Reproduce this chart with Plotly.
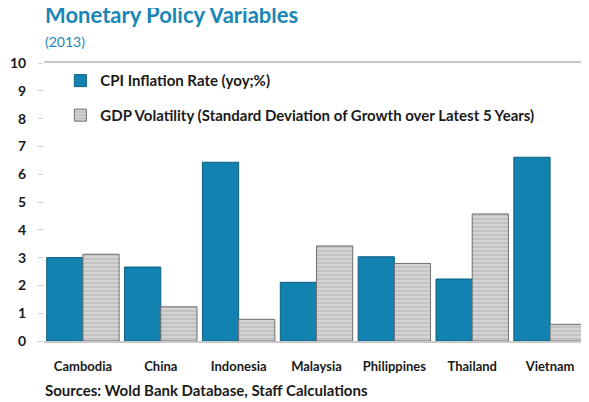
import plotly.graph_objects as go

countries = ['Cambodia', 'China', 'Indonesia', 'Malaysia', 'Philippines', 'Thailand', 'Vietnam']
cpi_inflation = [3.0, 2.66, 6.43, 2.11, 3.03, 2.23, 6.61]
gdp_volatility = [3.12, 1.23, 0.78, 3.42, 2.79, 4.57, 0.60]
y_ticks = list(range(0, 11))

blue = '#1282b0'
font_family = 'Lato, Open Sans, sans-serif'

fig = go.Figure()

fig.add_trace(go.Bar(
    x=countries, y=cpi_inflation, name='CPI Inflation Rate (yoy;%)',
    legendgroup='a',
    marker=dict(color=blue, line=dict(color='#0d5f80', width=1)),
))
fig.add_trace(go.Bar(
    x=countries, y=gdp_volatility,
    name='GDP Volatility (Standard Deviation of Growth over Latest 5 Years)',
    legendgroup='b',
    marker=dict(color='#c2c2c2', line=dict(color='#6e6e6e', width=1),
                pattern=dict(shape='-', fgcolor='white', size=4, solidity=0.3)),
))

# the page body has an 8px margin, so the figure is 8px smaller on each side
fig.update_layout(
    width=581, height=394,
    margin=dict(l=36, r=0, t=55, b=61),
    paper_bgcolor='white', plot_bgcolor='white',
    font=dict(family=font_family, size=12, color='#1a1a1a'),
    barmode='group', bargap=0.07, bargroupgap=0,
    showlegend=True,
    legend=dict(x=0.03, y=0.995, xanchor='left', yanchor='top',
                bgcolor='rgba(0,0,0,0)', tracegroupgap=12,
                font=dict(size=15, color='#1a1a1a', weight='bold')),
    annotations=[
        dict(text='<b>Monetary Policy Variables</b>', xref='paper', yref='paper',
             x=-0.002, y=1.176, xanchor='left', yanchor='middle', showarrow=False,
             font=dict(size=22, color='#1a86b5', family=font_family, weight=900)),
        dict(text='(2013)', xref='paper', yref='paper',
             x=-0.002, y=1.078, xanchor='left', yanchor='middle', showarrow=False,
             font=dict(size=14, color='#1a86b5', family=font_family)),
        dict(text='Sources: Wold Bank Database, Staff Calculations', xref='paper', yref='paper',
             x=-0.002, y=-0.176, xanchor='left', yanchor='middle', showarrow=False,
             font=dict(size=15, color='#1a1a1a', family=font_family, weight='bold')),
    ],
)

fig.update_xaxes(
    automargin=False,
    showline=True, mirror=True, linecolor='#c8c8c8', linewidth=2,
    ticks='outside', ticklen=12, tickcolor='rgba(0,0,0,0)',
    tickfont=dict(size=13, color='#1a1a1a', weight='bold'),
    showgrid=False,
)
fig.update_yaxes(
    automargin=False,
    range=[0, 10], tickvals=y_ticks, showgrid=False, zeroline=False,
    ticks='outside', ticklen=5, tickcolor='#d0d0d0',
    ticklabelstandoff=9,
    tickfont=dict(size=14, color='#1a1a1a', weight='bold'),
)

fig.write_html("out.html")
